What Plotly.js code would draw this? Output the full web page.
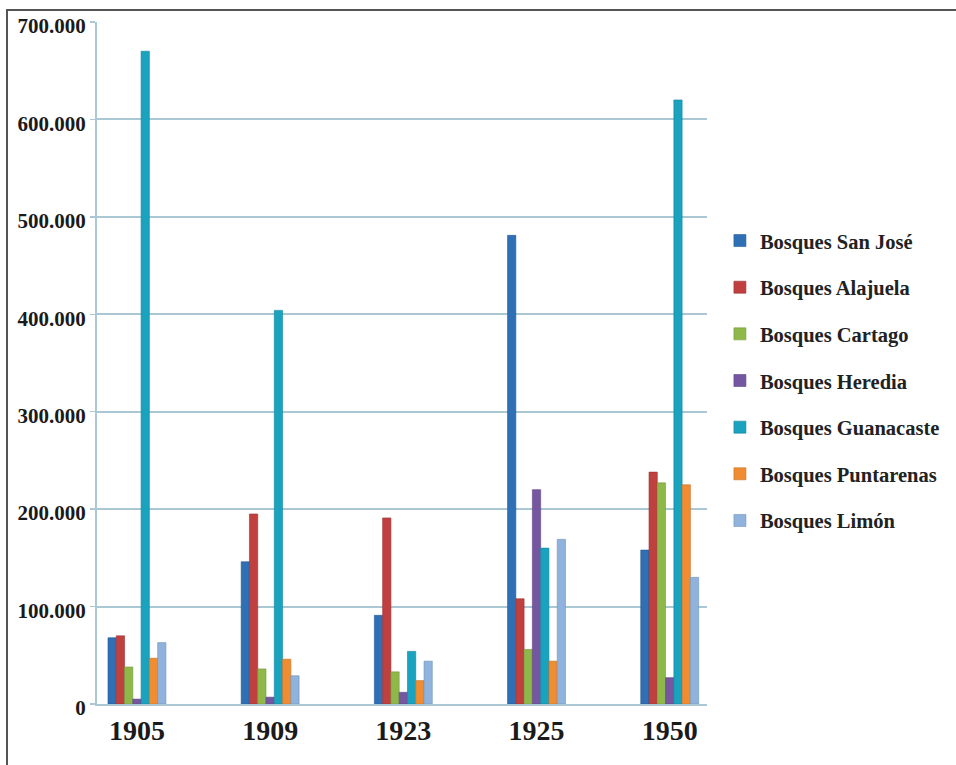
<!DOCTYPE html>
<html>
<head>
<meta charset="utf-8">
<script src="https://cdn.plot.ly/plotly-3.0.1.min.js"></script>
<style>
  html, body { margin: 0; padding: 0; background: #fff; }
  #wrap { position: relative; width: 956px; height: 765px; }
  #chart { width: 956px; height: 765px; }
  #frame { position: absolute; left: 6px; top: 9px; right: -5px; bottom: -5px;
           border-top: 2px solid #555; border-left: 2px solid #555; pointer-events: none; }
</style>
</head>
<body>
<div id="wrap">
  <div id="chart"></div>
  <div id="frame"></div>
</div>
<script>
const years = ['1905', '1909', '1923', '1925', '1950'];
const seriesNames = ['Bosques San José', 'Bosques Alajuela', 'Bosques Cartago', 'Bosques Heredia',
                     'Bosques Guanacaste', 'Bosques Puntarenas', 'Bosques Limón'];
const sanJose    = [68000, 146000, 91000, 481000, 158000];
const alajuela   = [70000, 195000, 191000, 108000, 238000];
const cartago    = [38000, 36000, 33000, 56000, 227000];
const heredia    = [5000, 7000, 12000, 220000, 27000];
const guanacaste = [670000, 404000, 54000, 160000, 620000];
const puntarenas = [47000, 46000, 24000, 44000, 225000];
const limon      = [63000, 29000, 44000, 169000, 130000];
const yTicks = [0, 100000, 200000, 300000, 400000, 500000, 600000, 700000];

const allValues = [sanJose, alajuela, cartago, heredia, guanacaste, puntarenas, limon];
const colors = ['#2f6fb5', '#c0403f', '#8fb84a', '#7556a0', '#1aa3bf', '#f08c32', '#8fb3dc'];
const edge = ['#245a94', '#9c3232', '#739839', '#5e4483', '#13859c', '#c77025', '#7294bb'];

const traces = seriesNames.map((name, i) => ({
  type: 'bar',
  name: name,
  x: years,
  y: allValues[i],
  legendgroup: 'g' + i,
  marker: { color: colors[i], line: { color: edge[i], width: 0.6 } },
  hoverinfo: 'x+y+name'
}));

const font = 'Liberation Serif, Times New Roman, serif';
const layout = {
  width: 956, height: 765,
  margin: { l: 97, r: 248, t: 22, b: 61 },
  paper_bgcolor: '#ffffff',
  plot_bgcolor: '#ffffff',
  separators: ',.',
  barmode: 'group',
  bargap: 0.565,
  bargroupgap: 0,
  showlegend: true,
  legend: {
    x: 1.0195, xanchor: 'left',
    y: 0.474, yanchor: 'middle',
    traceorder: 'grouped',
    tracegroupgap: 17,
    font: { family: font, size: 20.5, color: '#222', weight: 'bold' },
    itemwidth: 30
  },
  xaxis: {
    type: 'category',
    range: [-0.30, 4.28],
    showgrid: false,
    showline: true,
    linecolor: '#a9c8d3',
    linewidth: 2,
    ticks: '',
    tickfont: { family: font, size: 28, color: '#1a1a1a', weight: 'bold' },
    zeroline: false
  },
  yaxis: {
    range: [0, 700000],
    tickvals: yTicks,
    tickformat: ',d',
    showgrid: true,
    gridcolor: '#a9c8d3',
    gridwidth: 2,
    showline: true,
    linecolor: '#a9c8d3',
    linewidth: 2,
    ticks: 'outside',
    ticklen: 5,
    tickcolor: '#a9c8d3',
    tickwidth: 1.5,
    ticklabelshift: 4,
    zeroline: false,
    tickfont: { family: font, size: 21, color: '#1a1a1a', weight: 'bold' }
  }
};

Plotly.newPlot('chart', traces, layout, { displayModeBar: false, staticPlot: true });
</script>
</body>
</html>
